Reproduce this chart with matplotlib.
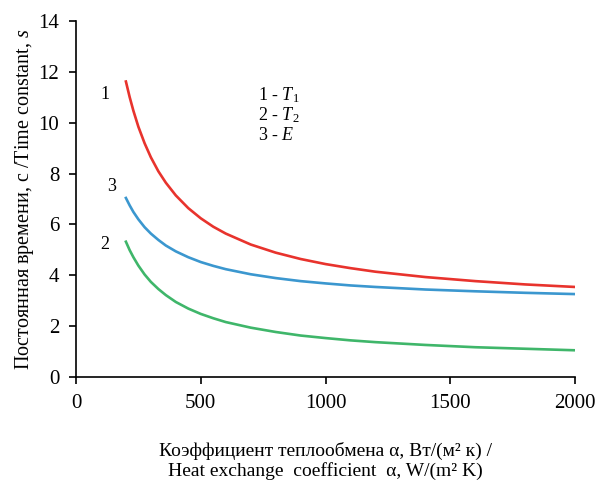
import matplotlib
matplotlib.use('Agg')
import matplotlib.pyplot as plt

# Данные
alpha = [200, 215, 230, 250, 275, 300, 330, 360, 400, 450, 500, 550, 600, 700,
         800, 900, 1000, 1100, 1200, 1400, 1600, 1800, 2000]
T1 = [11.62, 11.01, 10.47, 9.84, 9.19, 8.64, 8.09, 7.64, 7.14, 6.64, 6.24, 5.91,
      5.64, 5.21, 4.89, 4.64, 4.44, 4.28, 4.14, 3.93, 3.77, 3.64, 3.54]
T2 = [5.32, 4.99, 4.71, 4.38, 4.03, 3.74, 3.46, 3.22, 2.95, 2.69, 2.48, 2.31,
      2.16, 1.94, 1.77, 1.63, 1.53, 1.44, 1.37, 1.26, 1.17, 1.11, 1.05]
E = [7.04, 6.75, 6.49, 6.20, 5.89, 5.64, 5.39, 5.17, 4.94, 4.71, 4.52, 4.37,
     4.24, 4.04, 3.89, 3.77, 3.68, 3.60, 3.54, 3.44, 3.37, 3.31, 3.26]

plt.rcParams['font.family'] = ['Liberation Serif', 'DejaVu Serif']
plt.rcParams['mathtext.fontset'] = 'custom'
plt.rcParams['mathtext.rm'] = 'Liberation Serif'
plt.rcParams['mathtext.it'] = 'Liberation Serif:italic'

fig = plt.figure(figsize=(5.96, 4.83), dpi=100)
ax = fig.add_axes([0.1275, 0.2195, 0.8375, 0.737])

ax.plot(alpha, T1, color='#E8332D', lw=1.9, solid_joinstyle='round')
ax.plot(alpha, E, color='#3B97CF', lw=1.9, solid_joinstyle='round')
ax.plot(alpha, T2, color='#3FB66A', lw=1.9, solid_joinstyle='round')

ax.set_xlim(0, 2000)
ax.set_ylim(0, 14)
ax.set_xticks([0, 500, 1000, 1500, 2000])
ax.set_yticks(range(0, 15, 2))
ax.spines['top'].set_visible(False)
ax.spines['right'].set_visible(False)
for s in ['left', 'bottom']:
    ax.spines[s].set_linewidth(1.2)
ax.tick_params(direction='out', length=5, width=1.2, labelsize=15, pad=7)

# подписи кривых
ax.text(116, 11.1, '1', fontsize=13, ha='center', va='center')
ax.text(144, 7.5, '3', fontsize=13, ha='center', va='center')
ax.text(116, 5.2, '2', fontsize=13, ha='center', va='center')

ax.text(730, 11.1, r'1 - $\mathit{T}_1$', fontsize=13, va='center')
ax.text(730, 10.3, r'2 - $\mathit{T}_2$', fontsize=13, va='center')
ax.text(730, 9.5, r'3 - $\mathit{E}$', fontsize=13, va='center')

ax.set_ylabel(r'Постоянная времени, с /Time constant, $\mathit{s}$', fontsize=14.5, labelpad=2)
ax.set_xlabel('Коэффициент теплообмена α, Вт/(м² к) /\nHeat exchange  coefficient  α, W/(m² K)',
              fontsize=14, labelpad=21, linespacing=1.15)

plt.savefig('out.png', dpi=100)
